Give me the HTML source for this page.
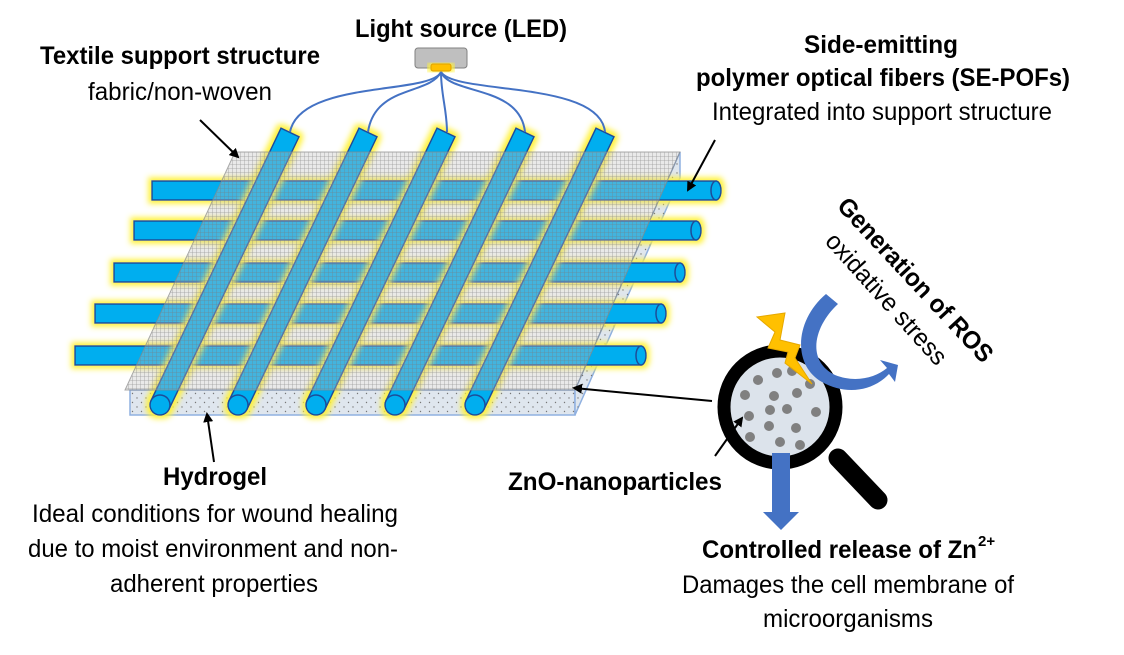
<!DOCTYPE html>
<html><head><meta charset="utf-8"><style>
html,body{margin:0;padding:0;background:#fff;}
svg{display:block;}
text{font-family:"Liberation Sans",sans-serif;fill:#000;}
.b{font-weight:bold;font-size:25px;}
.n{font-size:25px;}
</style></head><body>
<svg width="1124" height="655" viewBox="0 0 1124 655" xmlns="http://www.w3.org/2000/svg">
<defs>
<filter id="glow" x="-20%" y="-20%" width="140%" height="140%">
<feMorphology in="SourceAlpha" operator="dilate" radius="3" result="d"/>
<feGaussianBlur in="d" stdDeviation="3" result="bl"/>
<feFlood flood-color="#fff23a"/>
<feComposite in2="bl" operator="in" result="g"/>
<feMerge><feMergeNode in="g"/><feMergeNode in="SourceGraphic"/></feMerge>
</filter>
<pattern id="grid" width="4" height="4" patternUnits="userSpaceOnUse">
<path d="M0 0H4M0 0V4" stroke="#7a7a7a" stroke-width="0.8" fill="none"/>
</pattern>
<pattern id="dots" width="9" height="9" patternUnits="userSpaceOnUse">
<circle cx="2" cy="2" r="0.7" fill="#777"/><circle cx="6.5" cy="6.5" r="0.7" fill="#777"/>
</pattern>
<marker id="ah" markerWidth="10" markerHeight="10" refX="8" refY="5" orient="auto" markerUnits="userSpaceOnUse">
<path d="M0 0L10 5L0 10z" fill="#000"/>
</marker>
</defs>

<polygon points="130,390 575,390 575,415 130,415" fill="#dfe6ee" stroke="#8fb0e0" stroke-width="1.5"/>
<polygon points="575,390 680,152 680,178 575,415" fill="#dfe6ee" stroke="#8fb0e0" stroke-width="1.5"/>
<polygon points="130,390 575,390 575,415 130,415" fill="url(#dots)"/>
<polygon points="575,390 680,152 680,178 575,415" fill="url(#dots)"/>

<g filter="url(#glow)" stroke="#1f4e99" stroke-width="1.5">
<rect x="152" y="181" width="564" height="19" fill="#00aeef"/><ellipse cx="716" cy="190.5" rx="5" ry="9.5" fill="#00aeef"/>
<rect x="134" y="221" width="562" height="19" fill="#00aeef"/><ellipse cx="696" cy="230.5" rx="5" ry="9.5" fill="#00aeef"/>
<rect x="114" y="263" width="566" height="19" fill="#00aeef"/><ellipse cx="680" cy="272.5" rx="5" ry="9.5" fill="#00aeef"/>
<rect x="95" y="304" width="566" height="19" fill="#00aeef"/><ellipse cx="661" cy="313.5" rx="5" ry="9.5" fill="#00aeef"/>
<rect x="75" y="346" width="566" height="19" fill="#00aeef"/><ellipse cx="641" cy="355.5" rx="5" ry="9.5" fill="#00aeef"/>
</g>

<g filter="url(#glow)" stroke="#1f4e99" stroke-width="1.5" fill="#00aeef">
<g transform="translate(160,405) rotate(25.5)"><rect x="-10" y="-302" width="20" height="302"/><circle cx="0" cy="0" r="10"/></g>
<g transform="translate(238,405) rotate(25.5)"><rect x="-10" y="-302" width="20" height="302"/><circle cx="0" cy="0" r="10"/></g>
<g transform="translate(316,405) rotate(25.5)"><rect x="-10" y="-302" width="20" height="302"/><circle cx="0" cy="0" r="10"/></g>
<g transform="translate(395,405) rotate(25.5)"><rect x="-10" y="-302" width="20" height="302"/><circle cx="0" cy="0" r="10"/></g>
<g transform="translate(475,405) rotate(25.5)"><rect x="-10" y="-302" width="20" height="302"/><circle cx="0" cy="0" r="10"/></g>
</g>

<polygon points="235,152 680,152 575,390 125,390" fill="#c0c0c0" fill-opacity="0.35"/>
<polygon points="235,152 680,152 575,390 125,390" fill="url(#grid)" opacity="0.7" stroke="#888" stroke-width="1"/>

<rect x="415" y="48" width="52" height="20" rx="3" fill="#bfbfbf" stroke="#808080"/>
<rect x="431" y="64" width="20" height="7" rx="2" fill="#ffc000" stroke="#e0a000" filter="url(#glow)"/>
<g fill="none" stroke="#4472c4" stroke-width="2">
<path d="M441 72 C430 95,300 80,290 132"/>
<path d="M441 72 C430 95,375 85,368 132"/>
<path d="M441 72 C441 95,447 110,447 132"/>
<path d="M441 72 C450 95,520 85,525 132"/>
<path d="M441 72 C455 95,600 80,605 132"/>
</g>

<line x1="838" y1="458" x2="878" y2="500" stroke="#000" stroke-width="19" stroke-linecap="round"/>
<circle cx="780" cy="407" r="56" fill="#dce3eb" stroke="#000" stroke-width="13"/>
<g fill="#808080">
<circle cx="758" cy="380" r="5"/><circle cx="777" cy="373" r="5"/><circle cx="792" cy="371" r="5"/><circle cx="810" cy="384" r="5"/>
<circle cx="745" cy="395" r="5"/><circle cx="774" cy="396" r="5"/><circle cx="797" cy="393" r="5"/>
<circle cx="749" cy="416" r="5"/><circle cx="770" cy="410" r="5"/><circle cx="787" cy="409" r="5"/><circle cx="816" cy="412" r="5"/>
<circle cx="769" cy="426" r="5"/><circle cx="796" cy="428" r="5"/>
<circle cx="750" cy="437" r="5"/><circle cx="780" cy="442" r="5"/><circle cx="800" cy="445" r="5"/>
</g>
<polygon points="757,317 785,313 780,340 800,345 795,358 812,384 785,363 788,352 768,348 775,332" fill="#ffc000" stroke="#e6a800"/>
<path d="M826 294 L838 304 C815 325,805 360,835 375 C855 383,875 378,887 368 L880 360 L898 365 L895 382 L889 374 C872 392,845 395,822 382 C792 365,795 320,826 294z" fill="#4472c4"/>
<polygon points="772,453 790,453 790,512 799,512 781,530 763,512 772,512" fill="#4472c4"/>

<g stroke="#000" stroke-width="2" fill="none">
<line x1="200" y1="120" x2="238" y2="157" marker-end="url(#ah)"/>
<line x1="715" y1="140" x2="688" y2="190" marker-end="url(#ah)"/>
<line x1="214" y1="462" x2="207" y2="414" marker-end="url(#ah)"/>
<line x1="712" y1="401" x2="574" y2="388" marker-end="url(#ah)"/>
<line x1="715" y1="456" x2="742" y2="418" marker-end="url(#ah)"/>
</g>

<text class="b" x="355" y="37" textLength="212" lengthAdjust="spacingAndGlyphs">Light source (LED)</text>
<text class="b" x="40" y="64" textLength="280" lengthAdjust="spacingAndGlyphs">Textile support structure</text>
<text class="n" x="88" y="100" textLength="184" lengthAdjust="spacingAndGlyphs">fabric/non-woven</text>
<text class="b" x="804" y="53" textLength="154" lengthAdjust="spacingAndGlyphs">Side-emitting</text>
<text class="b" x="696" y="86" textLength="374" lengthAdjust="spacingAndGlyphs">polymer optical fibers (SE-POFs)</text>
<text class="n" x="712" y="120" textLength="340" lengthAdjust="spacingAndGlyphs">Integrated into support structure</text>
<text class="b" x="836" y="207" transform="rotate(47 836 207)" textLength="215" lengthAdjust="spacingAndGlyphs">Generation of ROS</text>
<text class="n" x="824" y="242" transform="rotate(48 824 242)" textLength="168" lengthAdjust="spacingAndGlyphs">oxidative stress</text>
<text class="b" x="163" y="485" textLength="104" lengthAdjust="spacingAndGlyphs">Hydrogel</text>
<text class="n" x="32" y="522" textLength="366" lengthAdjust="spacingAndGlyphs">Ideal conditions for wound healing</text>
<text class="n" x="28" y="557" textLength="370" lengthAdjust="spacingAndGlyphs">due to moist environment and non-</text>
<text class="n" x="110" y="592" textLength="208" lengthAdjust="spacingAndGlyphs">adherent properties</text>
<text class="b" x="508" y="490" textLength="214" lengthAdjust="spacingAndGlyphs">ZnO-nanoparticles</text>
<text class="b" x="702" y="558" textLength="275" lengthAdjust="spacingAndGlyphs">Controlled release of Zn</text>
<text class="b" x="978" y="546" style="font-size:15px">2+</text>
<text class="n" x="682" y="593" textLength="332" lengthAdjust="spacingAndGlyphs">Damages the cell membrane of</text>
<text class="n" x="763" y="627" textLength="170" lengthAdjust="spacingAndGlyphs">microorganisms</text>
</svg>
</body></html>
